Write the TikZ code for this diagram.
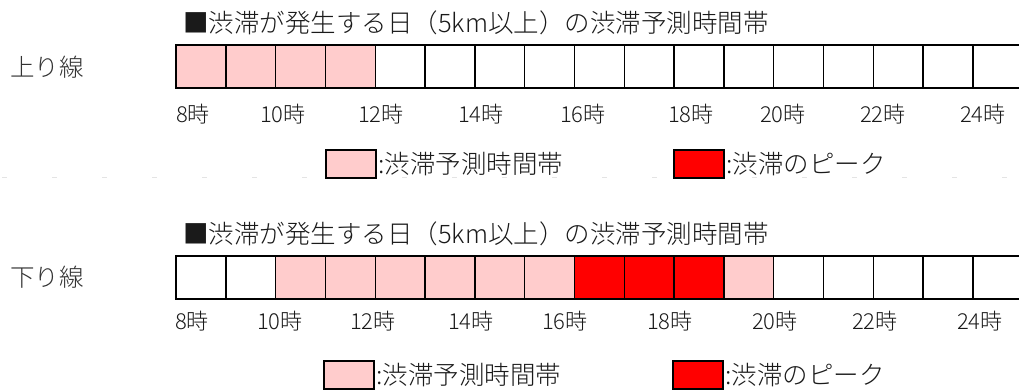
\documentclass[tikz,border=0pt]{standalone}
\usepackage{fontspec}
\IfFontExistsTF{Noto Sans CJK JP Light}{\setmainfont{Noto Sans CJK JP Light}}{\setmainfont{Noto Sans CJK JP}}
\definecolor{jpink}{HTML}{FFCCCC}
\definecolor{jred}{HTML}{FF0000}
\definecolor{faint}{HTML}{E4E4E4}
\definecolor{ink}{HTML}{1A1A1A}
\begin{document}
\begin{tikzpicture}[x=1pt,y=-1pt,
  cellbox/.style={draw=black, line width=1.4pt, minimum width=49.8pt, minimum height=43pt, inner sep=0pt, outer sep=0pt, anchor=north west},
  legbox/.style={draw=black, line width=1.6pt, minimum width=50pt, minimum height=28pt, inner sep=0pt, outer sep=0pt, anchor=north west},
  hourlbl/.style={font=\fontsize{22}{22}\selectfont, anchor=west, inner sep=0pt, text=ink},
  titlelbl/.style={font=\fontsize{25.5}{25.5}\selectfont, anchor=west, inner sep=0pt, text=ink},
  sidelbl/.style={font=\fontsize{24.5}{24.5}\selectfont, anchor=west, inner sep=0pt, text=black!80},
  legtxt/.style={font=\fontsize{25.5}{25.5}\selectfont, anchor=west, inner sep=0pt, text=ink}
]
\useasboundingbox (0,0) rectangle (1019,390);
\fill[white] (0,0) rectangle (1019,390);
% faint separator marks
\draw[faint, line width=1pt, dash pattern=on 5pt off 45pt] (2,178) -- (1019,178);

% titles
\node[titlelbl] (t1) at (183,23) {■渋滞が発生する日（5km以上）の渋滞予測時間帯};
\node[titlelbl] (t2) at (183,234) {■渋滞が発生する日（5km以上）の渋滞予測時間帯};

% side labels
\node[sidelbl] (s1) at (10,67) {上り線};
\node[sidelbl] (s2) at (10,277.5) {下り線};

\begin{scope}
\clip (0,0) rectangle (1019,390);
% up bar
\foreach \c [count=\i] in {jpink,jpink,jpink,jpink,white,white,white,white,white,white,white,white,white,white,white,white,white}
  \node[cellbox, fill=\c] (u\i) at ({176+(\i-1)*49.8},45) {};
% down bar
\foreach \c [count=\i] in {white,white,jpink,jpink,jpink,jpink,jpink,jpink,jred,jred,jred,jpink,white,white,white,white,white}
  \node[cellbox, fill=\c] (d\i) at ({176+(\i-1)*49.8},256) {};
\end{scope}

% hour labels, up
\foreach \x/\t [count=\i] in {176/8時,260/10時,358/12時,458/14時,560/16時,668/18時,760/20時,860/22時,960/24時}
  \node[hourlbl] (ha\i) at (\x,114) {\t};
% hour labels, down
\foreach \x/\t [count=\i] in {175/8時,257/10時,350/12時,448/14時,542/16時,647/18時,752/20時,852/22時,957/24時}
  \node[hourlbl] (hb\i) at (\x,321) {\t};

% legends
\node[legbox, fill=jpink] (lp1) at (326,150) {};
\node[legtxt] (lpt1) at ([xshift=2pt]lp1.east) {:渋滞予測時間帯};
\node[legbox, fill=jred] (lr1) at (674,150) {};
\node[legtxt] (lrt1) at ([xshift=2pt]lr1.east) {:渋滞のピーク};

\node[legbox, fill=jpink] (lp2) at (324,361) {};
\node[legtxt] (lpt2) at ([xshift=2pt]lp2.east) {:渋滞予測時間帯};
\node[legbox, fill=jred] (lr2) at (673,361) {};
\node[legtxt] (lrt2) at ([xshift=2pt]lr2.east) {:渋滞のピーク};
\end{tikzpicture}
\end{document}
